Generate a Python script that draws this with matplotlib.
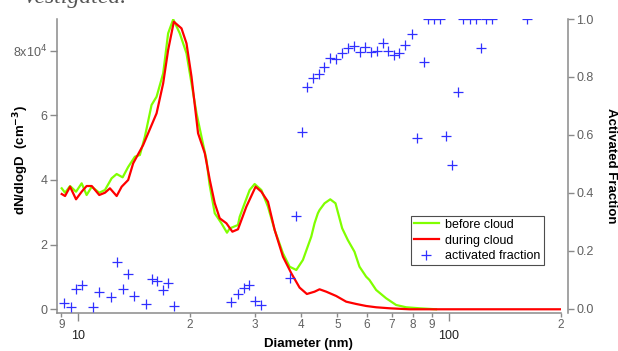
import matplotlib
matplotlib.use("Agg")
import matplotlib.pyplot as plt
from matplotlib.ticker import FixedLocator, FixedFormatter
from matplotlib.lines import Line2D

plt.rcParams['font.family'] = ['Liberation Sans', 'DejaVu Sans']

# size distribution before cloud (diameter nm, dN/dlogD cm-3)
before_d = [9.02, 9.21, 9.50, 9.86, 10.21, 10.53, 10.87, 11.39, 11.80, 12.30, 12.69,
            13.17, 13.63, 14.21, 14.66, 15.12, 15.76, 16.26, 16.94, 17.47, 18.03,
            18.78, 19.58, 20.20, 20.84, 21.49, 22.17, 22.60, 23.34, 24.33, 25.18,
            25.61, 26.96, 27.25, 28.10, 28.99, 29.90, 31.17, 32.48, 33.86, 35.65,
            37.15, 38.73, 40.35, 42.50, 43.38, 44.28, 44.75, 46.16, 47.82, 49.41,
            51.50, 53.33, 55.59, 57.34, 59.77, 61.01, 63.60, 67.67, 72.00, 76.59,
            83.18, 92.26]
before_n = [37400, 36040, 38110, 36350, 38950, 35330, 37900, 36040, 36880, 40500, 41820,
            40800, 44000, 47170, 47700, 53360, 63150, 65720, 72950, 85320, 89650,
            85320, 79140, 69860, 60590, 53360, 46150, 38500, 29680, 26590, 23680,
            25000, 26060, 28620, 32770, 36880, 38730, 36880, 31720, 24510, 17310,
            13170, 12150, 15240, 22440, 26590, 29680, 30690, 32770, 34000, 32770,
            25040, 21420, 17800, 13170, 10080, 9060, 5970, 3400, 1330, 620,
            310, 0]

# size distribution during cloud
during_d = [9.02, 9.21, 9.50, 9.86, 10.21, 10.53, 10.87, 11.39, 11.80, 12.17, 12.69,
            13.09, 13.63, 14.06, 14.96, 16.26, 16.94, 17.47, 18.10, 18.98, 19.58,
            20.20, 21.04, 21.94, 22.63, 23.34, 24.07, 25.09, 26.04, 26.96, 28.40,
            30.08, 31.17, 32.48, 33.86, 35.65, 37.55, 39.53, 41.36, 43.38, 44.75,
            46.65, 49.62, 52.80, 56.18, 59.77, 63.60, 69.07, 78.18, 199.4]
during_n = [35640, 35020, 37900, 34000, 36350, 38110, 38110, 35330, 36040, 37400, 35020,
            37900, 39970, 45130, 50780, 60590, 69860, 80150, 88900, 86860, 82220,
            71910, 54410, 48230, 39970, 32770, 28130, 26590, 23990, 24730, 31720,
            37900, 36350, 33260, 24510, 16260, 11130, 6700, 4730, 5440, 6180,
            5440, 4110, 2350, 1640, 1020, 620, 310, 0, 0]

# activated fraction
af_d = [9.17, 9.54, 9.86, 10.21, 10.97, 11.39, 12.22, 12.69, 13.17, 13.63, 14.12,
        15.19, 15.77, 16.26, 16.87, 17.51, 18.14, 25.87, 26.98, 27.96, 28.9, 29.97,
        31.05, 37.18, 38.72, 40.2, 41.4, 42.9, 44.5, 46.1, 47.8, 49.7, 51.5, 53.3,
        55.4, 57.4, 59.5, 61.6, 63.8, 66.2, 68.6, 71.0, 73.2, 76.1, 79.4, 82.1,
        85.4, 87.7, 91.1, 94.5, 98.4, 101.9, 105.6, 109.2, 113.6, 117.9, 122.3,
        126.2, 130.6, 162.8]
af = [0.02, 0.006, 0.069, 0.083, 0.006, 0.06, 0.04, 0.163, 0.068, 0.12, 0.046,
      0.018, 0.104, 0.098, 0.066, 0.091, 0.01, 0.025, 0.05, 0.073, 0.082, 0.029,
      0.013, 0.106, 0.321, 0.609, 0.765, 0.796, 0.81, 0.834, 0.864, 0.861, 0.884, 0.899,
      0.907, 0.885, 0.905, 0.885, 0.89, 0.916, 0.891, 0.875, 0.884, 0.91, 0.948, 0.589,
      0.852, 1.0, 1.0, 1.0, 0.597, 0.497, 0.747, 1.0, 1.0, 1.0, 0.901,
      1.0, 1.0, 1.0]

x_minor = [9, 20, 30, 40, 50, 60, 70, 80, 90, 200]
x_minor_labels = ['9', '2', '3', '4', '5', '6', '7', '8', '9', '2']
y_left_ticks = [0, 20000, 40000, 60000, 80000]
y_left_labels = ['0', '2', '4', '6', r'8x10$^4$']
y_right_ticks = [0.0, 0.2, 0.4, 0.6, 0.8, 1.0]

AXC = '#8a8a8a'
TXC = '#606060'
GREEN = '#80ff00'
RED = '#ff0000'
BLUE = '#3030ff'

W, H = 618, 351
fig = plt.figure(figsize=(W / 100, H / 100), dpi=100)
ax = fig.add_axes([57 / W, 38 / H, 504 / W, 294 / H])
ax2 = ax.twinx()

ax.plot(before_d, before_n, color=GREEN, lw=1.6)
ax.plot(during_d, during_n, color=RED, lw=1.6)
ax2.plot(af_d, af, ls='none', marker='+', ms=6.5, mew=0.9, color=BLUE)

ax.set_xscale('log')
ax.set_xlim(8.76, 200.5)
ax.set_ylim(-1150, 89750)
ax2.set_ylim(-0.0138, 1.0)

# x ticks: decades as major, single digits as minor
ax.xaxis.set_major_locator(FixedLocator([10, 100]))
ax.xaxis.set_major_formatter(FixedFormatter(['10', '100']))
ax.xaxis.set_minor_locator(FixedLocator(x_minor))
ax.xaxis.set_minor_formatter(FixedFormatter(x_minor_labels))
ax.tick_params(axis='x', which='major', length=6, width=1, color=AXC,
               pad=6, labelsize=9, labelcolor='#202020')
ax.tick_params(axis='x', which='minor', length=3, width=1, color=AXC,
               pad=1.5, labelsize=8.5, labelcolor=TXC)

ax.yaxis.set_major_locator(FixedLocator(y_left_ticks))
ax.yaxis.set_major_formatter(FixedFormatter(y_left_labels))
ax.tick_params(axis='y', length=5, width=1, color=AXC, pad=2,
               labelsize=9, labelcolor=TXC)

ax2.yaxis.set_major_locator(FixedLocator(y_right_ticks))
ax2.yaxis.set_major_formatter(FixedFormatter(['%.1f' % v for v in y_right_ticks]))
ax2.tick_params(axis='y', length=4, width=1, color=AXC, pad=2,
                labelsize=9, labelcolor=TXC)

for a in (ax, ax2):
    a.spines['top'].set_visible(False)
    for s in a.spines.values():
        s.set_color(AXC)
        s.set_linewidth(1.1)
ax2.spines['left'].set_visible(False)
ax2.spines['bottom'].set_visible(False)
ax.spines['right'].set_visible(False)
ax2.spines['right'].set_position(('outward', 5))

# axis titles placed directly, the default label pads push them off the canvas
fig.text(308 / W, 1 - 344 / H, 'Diameter (nm)', fontsize=9.5, fontweight='bold',
         ha='center', va='center')
fig.text(21 / W, 1 - 160 / H, r'dN/dlogD  (cm$^{\mathbf{-3}}$)', fontsize=9.5,
         fontweight='bold', rotation=90, ha='center', va='center')
fig.text(611 / W, 1 - 166 / H, 'Activated Fraction', fontsize=9.5, fontweight='bold',
         rotation=270, ha='center', va='center')

handles = [Line2D([], [], color=GREEN, lw=1.6),
           Line2D([], [], color=RED, lw=1.6),
           Line2D([], [], ls='none', marker='+', ms=6.5, mew=0.9, color=BLUE)]
leg = ax2.legend(handles, ['before cloud', 'during cloud', 'activated fraction'],
                 loc='upper left', bbox_to_anchor=(0.702, 0.331), borderaxespad=0,
                 fontsize=9, frameon=True, fancybox=False, handlelength=2.0,
                 handletextpad=0.5, labelspacing=0.3, borderpad=0.25)
leg.get_frame().set_edgecolor('#202020')
leg.get_frame().set_linewidth(0.8)

# bit of the document text cut off above the chart
fig.text(25 / W, 1 - 3 / H, 'vestigated.', fontsize=17, family='Liberation Serif',
         style='italic', color='#555555', va='baseline')

fig.savefig('out.png', dpi=100)
